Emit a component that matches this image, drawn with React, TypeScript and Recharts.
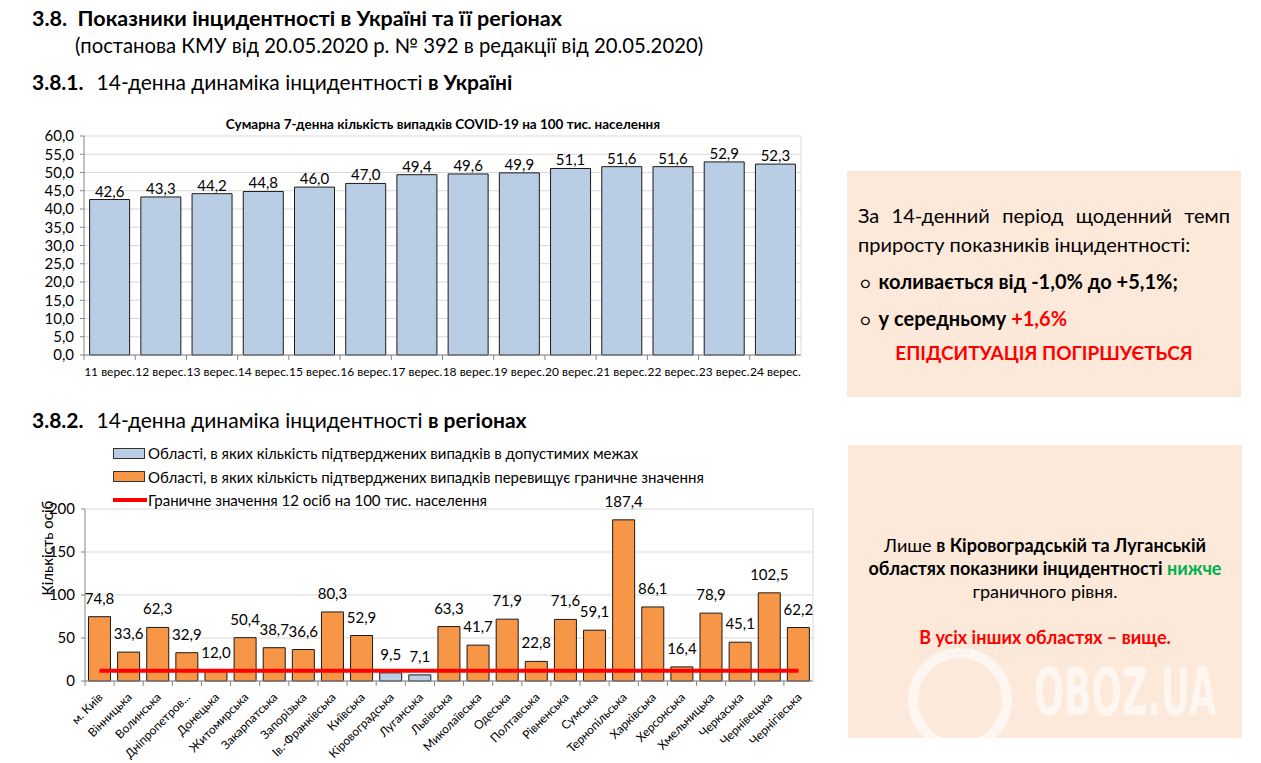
import React from "react";
import {
  BarChart,
  ComposedChart,
  Bar,
  Line,
  XAxis,
  YAxis,
  CartesianGrid,
  LabelList,
} from "recharts";

const FONT = "Lato, 'Open Sans', sans-serif";

// 3.8.1 — Ukraine, 7-day sum per 100k
const days = [
  "11 верес.", "12 верес.", "13 верес.", "14 верес.", "15 верес.", "16 верес.", "17 верес.",
  "18 верес.", "19 верес.", "20 верес.", "21 верес.", "22 верес.", "23 верес.", "24 верес.",
];
const weeklyIncidence = [42.6, 43.3, 44.2, 44.8, 46.0, 47.0, 49.4, 49.6, 49.9, 51.1, 51.6, 51.6, 52.9, 52.3];
const ukraineTicks = [0, 5, 10, 15, 20, 25, 30, 35, 40, 45, 50, 55, 60];

// 3.8.2 — regions
const regions = [
  "м. Київ", "Вінницька", "Волинська", "Дніпропетров...", "Донецька", "Житомирська",
  "Закарпатська", "Запорізька", "Ів.-Франківська", "Київська", "Кіровоградська", "Луганська",
  "Львівська", "Миколаївська", "Одеська", "Полтавська", "Рівненська", "Сумська",
  "Тернопільська", "Харківська", "Херсонська", "Хмельницька", "Черкаська", "Чернівецька",
  "Чернігівська",
];
const regionIncidence = [
  74.8, 33.6, 62.3, 32.9, 12.0, 50.4, 38.7, 36.6, 80.3, 52.9, 9.5, 7.1, 63.3, 41.7, 71.9,
  22.8, 71.6, 59.1, 187.4, 86.1, 16.4, 78.9, 45.1, 102.5, 62.2,
];
const LIMIT = 12;
const regionTicks = [0, 50, 100, 150, 200];

const legendItems = [
  { kind: "box", color: "#b9cde5", text: "Області, в яких кількість підтверджених випадків в допустимих межах" },
  { kind: "box", color: "#f79646", text: "Області, в яких кількість підтверджених випадків перевищує граничне значення" },
  { kind: "line", color: "#ff0000", text: "Граничне значення 12 осіб на 100 тис. населення" },
];

const ukraineData = days.map((day, i) => ({ day, value: weeklyIncidence[i] }));
const regionData = regions.map((region, i) => {
  const v = regionIncidence[i];
  return {
    region,
    within: v < LIMIT ? v : null,
    above: v >= LIMIT ? v : null,
    limit: LIMIT,
  };
});

const fmt1 = (v: any) => (v == null ? "" : Number(v).toFixed(1).replace(".", ","));

const DayTick = (props: any) => {
  const { x, y, payload } = props;
  const half = payload?.offset || 25.6;
  return (
    <g>
      <line x1={x - half} x2={x - half} y1={y} y2={y + 5} stroke="#868686" />
      <text x={x} y={y + 21} textAnchor="middle" fontSize={12} fill="#000" fontFamily={FONT}>
        {payload.value}
      </text>
    </g>
  );
};

const RegionTick = (props: any) => {
  const { x, y, payload } = props;
  const half = payload?.offset || 14.56;
  return (
    <g>
      <line x1={x - half} x2={x - half} y1={y} y2={y + 5} stroke="#868686" />
      <text
        transform={`translate(${x + 4},${y + 17}) rotate(-45)`}
        textAnchor="end"
        fontSize={12}
        fill="#000"
        fontFamily={FONT}
      >
        {payload.value}
      </text>
    </g>
  );
};

const abs = (left: number, top: number, extra: React.CSSProperties = {}): React.CSSProperties => ({
  position: "absolute",
  left,
  top,
  ...extra,
});

export default function App() {
  return (
    <div
      style={{
        position: "absolute",
        left: 0,
        top: 0,
        width: 1261,
        height: 763,
        background: "#fff",
        fontFamily: FONT,
        color: "#000",
        overflow: "hidden",
      }}
    >
      {/* headings */}
      <div style={abs(32, 4, { fontSize: 21.5, fontWeight: 700, lineHeight: "28px", whiteSpace: "nowrap" })}>
        3.8.&nbsp; Показники інцидентності в Україні та її регіонах
      </div>
      <div style={abs(75, 31, { fontSize: 20.3, lineHeight: "28px", whiteSpace: "nowrap" })}>
        (постанова КМУ від 20.05.2020 р. № 392 в редакції від 20.05.2020)
      </div>
      <div style={abs(32, 69, { fontSize: 21, lineHeight: "26px", whiteSpace: "nowrap" })}>
        <b>3.8.1.</b>
        <span style={{ display: "inline-block", width: 13 }} />
        14-денна динаміка інцидентності <b>в Україні</b>
      </div>
      <div style={abs(32, 407, { fontSize: 21, lineHeight: "26px", whiteSpace: "nowrap" })}>
        <b>3.8.2.</b>
        <span style={{ display: "inline-block", width: 13 }} />
        14-денна динаміка інцидентності <b>в регіонах</b>
      </div>

      {/* chart 1 */}
      <div style={abs(40, 110)}>
        <div
          style={abs(0, 6, {
            width: 806,
            textAlign: "center",
            fontSize: 13.5,
            fontWeight: 700,
            lineHeight: "16px",
            whiteSpace: "nowrap",
          })}
        >
          Сумарна 7-денна кількість випадків COVID-19 на 100 тис. населення
        </div>
        <BarChart
          width={790}
          height={275}
          data={ukraineData}
          margin={{ top: 26, right: 28, bottom: 0, left: 0 }}
          barCategoryGap="11%"
          style={{ fontFamily: FONT }}
        >
          <CartesianGrid vertical={false} stroke="#d9d9d9" />
          <XAxis
            dataKey="day"
            interval={0}
            height={30}
            tickSize={0}
            tickMargin={0}
            axisLine={{ stroke: "#868686" }}
            tick={<DayTick />}
          />
          <YAxis
            width={44}
            domain={[0, 60]}
            ticks={ukraineTicks}
            interval={0}
            tickFormatter={fmt1}
            tickSize={4}
            tickMargin={6}
            tick={{ fontSize: 15, fill: "#000" }}
            axisLine={{ stroke: "#868686" }}
            tickLine={{ stroke: "#868686" }}
          />
          <YAxis
            yAxisId="frame"
            orientation="right"
            width={1}
            domain={[0, 60]}
            tick={false}
            tickLine={false}
            axisLine={{ stroke: "#d9d9d9" }}
          />
          <Bar dataKey="value" fill="#b9cde5" stroke="#1a1a1a" strokeWidth={1} isAnimationActive={false}>
            <LabelList dataKey="value" position="top" offset={3} formatter={fmt1} fill="#000" fontSize={15} />
          </Bar>
        </BarChart>
      </div>

      {/* box 1 */}
      <div style={abs(847, 171, { width: 394, height: 226, background: "#fde9d9" })}>
        <div
          style={abs(11, 30, {
            width: 372,
            fontSize: 20,
            lineHeight: "28px",
            textAlign: "justify",
            textAlignLast: "justify",
            whiteSpace: "nowrap",
          })}
        >
          За 14-денний період щоденний темп
        </div>
        <div style={abs(11, 59, { fontSize: 20, lineHeight: "28px", whiteSpace: "nowrap" })}>
          приросту показників інцидентності:
        </div>
        <div style={abs(13, 96, { fontSize: 20, lineHeight: "28px", whiteSpace: "nowrap", fontWeight: 700 })}>
          <span style={{ fontWeight: 400, fontSize: 16, marginRight: 8 }}>○</span>коливається від -1,0% до +5,1%;
        </div>
        <div style={abs(13, 133, { fontSize: 20, lineHeight: "28px", whiteSpace: "nowrap", fontWeight: 700 })}>
          <span style={{ fontWeight: 400, fontSize: 16, marginRight: 8 }}>○</span>у середньому{" "}
          <span style={{ color: "#ff0000" }}>+1,6%</span>
        </div>
        <div
          style={abs(0, 168, {
            width: 394,
            textAlign: "center",
            fontSize: 19,
            lineHeight: "28px",
            fontWeight: 700,
            color: "#ff0000",
          })}
        >
          ЕПІДСИТУАЦІЯ ПОГІРШУЄТЬСЯ
        </div>
      </div>

      {/* chart 2 */}
      <div style={abs(40, 440)}>
        <ComposedChart
          width={790}
          height={320}
          data={regionData}
          margin={{ top: 69, right: 16, bottom: 0, left: 0 }}
          barCategoryGap="12%"
          style={{ fontFamily: FONT }}
        >
          <CartesianGrid vertical={false} stroke="#d9d9d9" />
          <XAxis
            dataKey="region"
            interval={0}
            height={79}
            tickSize={0}
            tickMargin={0}
            axisLine={{ stroke: "#868686" }}
            tick={<RegionTick />}
          />
          <YAxis
            width={45}
            domain={[0, 200]}
            ticks={regionTicks}
            interval={0}
            tickSize={4}
            tickMargin={6}
            tick={{ fontSize: 15, fill: "#000" }}
            axisLine={{ stroke: "#868686" }}
            tickLine={{ stroke: "#868686" }}
          />
          <YAxis
            yAxisId="frame"
            orientation="right"
            width={1}
            domain={[0, 200]}
            tick={false}
            tickLine={false}
            axisLine={{ stroke: "#d9d9d9" }}
          />
          <Bar dataKey="within" stackId="r" fill="#b9cde5" stroke="#1a1a1a" isAnimationActive={false}>
            <LabelList dataKey="within" position="top" offset={13} formatter={fmt1} fill="#000" fontSize={15} />
          </Bar>
          <Bar dataKey="above" stackId="r" fill="#f79646" stroke="#1a1a1a" isAnimationActive={false}>
            <LabelList dataKey="above" position="top" offset={13} formatter={fmt1} fill="#000" fontSize={15} />
          </Bar>
          <Line dataKey="limit" stroke="#ff0000" strokeWidth={4} dot={false} isAnimationActive={false} />
        </ComposedChart>
        {/* legend */}
        {legendItems.map((it, i) => (
          <div key={i} style={abs(73, 3 + i * 23.5, { display: "flex", alignItems: "center", height: 20, whiteSpace: "nowrap" })}>
            {it.kind === "box" ? (
              <span
                style={{
                  display: "inline-block",
                  width: 30,
                  height: 9,
                  background: it.color,
                  border: "1px solid #333",
                  marginRight: 3,
                }}
              />
            ) : (
              <span style={{ display: "inline-block", width: 34, height: 4, background: it.color, marginRight: 1 }} />
            )}
            <span style={{ fontSize: 15 }}>{it.text}</span>
          </div>
        ))}
        {/* y axis title */}
        <div
          style={abs(-48, 99, {
            width: 110,
            textAlign: "center",
            fontSize: 15,
            lineHeight: "18px",
            transform: "rotate(-90deg)",
            whiteSpace: "nowrap",
          })}
        >
          Кількість осіб
        </div>
      </div>

      {/* box 2 */}
      <div style={abs(848, 445, { width: 394, height: 293, background: "#fde9d9" })}>
        {/* watermark */}
        <svg width={394} height={293} style={abs(0, 0)}>
          <defs>
            <clipPath id="boxClip">
              <rect x={0} y={0} width={394} height={293} />
            </clipPath>
          </defs>
          <circle
            cx={112}
            cy={255}
            r={47}
            fill="none"
            stroke="rgba(255,255,255,0.6)"
            strokeWidth={10}
            clipPath="url(#boxClip)"
          />
          <g transform="translate(186,270) scale(0.6,1)">
            <text
              x={0}
              y={0}
              fontSize={66}
              fontWeight={700}
              fill="rgba(255,255,255,0.6)"
              fontFamily="'DejaVu Sans Condensed', 'Liberation Sans Narrow', sans-serif"
            >
              OBOZ.UA
            </text>
          </g>
        </svg>
        <div style={abs(0, 89, { width: 394, textAlign: "center", fontSize: 18, lineHeight: "23px" })}>
          Лише <b>в Кіровоградській та Луганській</b>
          <br />
          <b>
            областях показники інцидентності <span style={{ color: "#00b050" }}>нижче</span>
          </b>
          <br />
          граничного рівня.
          <br />
          <br />
          <b style={{ color: "#ff0000" }}>В усіх інших областях – вище.</b>
        </div>
      </div>
    </div>
  );
}
